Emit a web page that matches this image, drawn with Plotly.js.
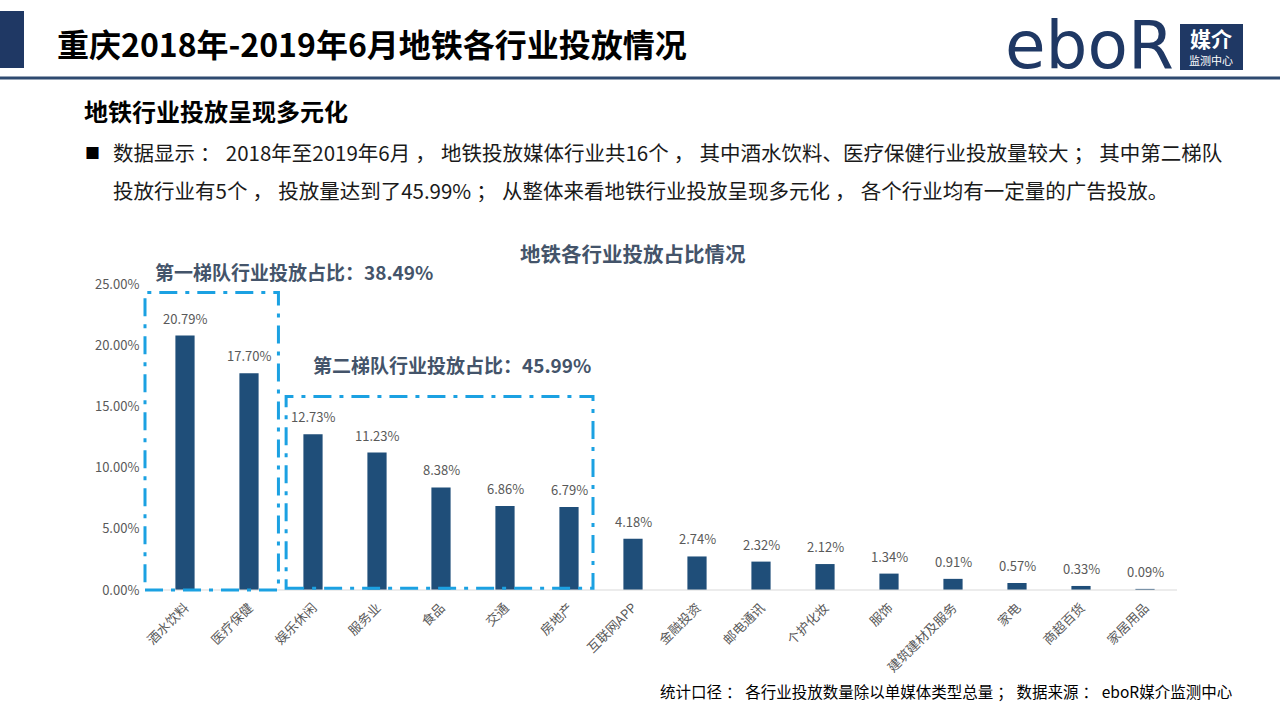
<!DOCTYPE html>
<html>
<head>
<meta charset="utf-8">
<script src="https://cdn.plot.ly/plotly-3.0.1.min.js"></script>
<style>
html,body{margin:0;padding:0;background:#fff;}
#chart{width:1280px;height:720px;}
</style>
</head>
<body>
<div id="chart"></div>
<script>
// ---- data ----
const categories = ['酒水饮料','医疗保健','娱乐休闲','服务业','食品','交通','房地产','互联网APP','金融投资','邮电通讯','个护化妆','服饰','建筑建材及服务','家电','商超百货','家居用品'];
const shares = [20.79, 17.70, 12.73, 11.23, 8.38, 6.86, 6.79, 4.18, 2.74, 2.32, 2.12, 1.34, 0.91, 0.57, 0.33, 0.09];
const yTickValues = [0, 5, 10, 15, 20, 25];
const yTickLabels = ['0.00%', '5.00%', '10.00%', '15.00%', '20.00%', '25.00%'];
const tier1Label = '第一梯队行业投放占比：38.49%';
const tier2Label = '第二梯队行业投放占比：45.99%';
const chartTitle = '地铁各行业投放占比情况';
const pageTitle = '重庆2018年-2019年6月地铁各行业投放情况';
const subTitle = '地铁行业投放呈现多元化';
const S = '\u2005';
const bodyLine1 = '数据显示' + S + '：' + S + '2018年至2019年6月' + S + '，' + S + '地铁投放媒体行业共16个' + S + '，' + S + '其中酒水饮料、医疗保健行业投放量较大' + S + '；' + S + '其中第二梯队';
const bodyLine2 = '投放行业有5个' + S + '，' + S + '投放量达到了45.99%' + S + '；' + S + '从整体来看地铁行业投放呈现多元化' + S + '，' + S + '各个行业均有一定量的广告投放。';
const footNote = '统计口径' + S + '：' + S + '各行业投放数量除以单媒体类型总量' + S + '；' + S + '数据来源' + S + '：' + S + 'eboR媒介监测中心';

// ---- layout helpers (page pixel -> paper) ----
const L = 153, R = 1177, T = 284, B = 590;
const px = x => (x - L) / (R - L);
const py = y => (B - y) / (B - T);
const nCat = categories.length;
const yMax = 25;
const catToPaper = i => (i + 0.5) / nCat;
const valToPaper = v => v / yMax;

const CJK = '"Noto Sans CJK SC", "Noto Sans", sans-serif';
const navy = '#1f3864';
const slate = '#44546a';
const barColor = '#1f4e79';
const boxColor = '#1ba1e2';

const trace = {
  type: 'bar',
  x: categories,
  y: shares,
  width: 0.3,
  marker: {color: barColor},
  hoverinfo: 'skip'
};

const annotations = [];
// value labels
categories.forEach((c, i) => {
  annotations.push({
    x: c, y: shares[i], xref: 'x', yref: 'y',
    text: shares[i].toFixed(2) + '%',
    showarrow: false, yanchor: 'bottom', yshift: 6,
    font: {family: CJK, size: 13, color: '#595959'}
  });
});
function pageText(text, x, y, size, opts) {
  opts = opts || {};
  annotations.push(Object.assign({
    text: text, xref: 'paper', yref: 'paper', x: px(x), y: py(y),
    xanchor: 'left', yanchor: 'middle', showarrow: false,
    font: {family: CJK, size: size, color: opts.color || '#000'}
  }, opts.extra || {}));
}
pageText('<b>' + pageTitle + '</b>', 55, 43, 32);
pageText('<b>' + subTitle + '</b>', 82, 110, 24);
pageText('■', 83, 152, 15);
pageText(bodyLine1, 111, 152, 20.5, {color: '#1a1a1a'});
pageText(bodyLine2, 111, 190, 20.5, {color: '#1a1a1a'});
pageText('<b>' + chartTitle + '</b>', 633, 253, 20.5, {color: slate, extra: {xanchor: 'center'}});
pageText('<b>' + tier1Label + '</b>', 153, 271, 19, {color: slate});
pageText('<b>' + tier2Label + '</b>', 311, 364, 19, {color: slate});
pageText(footNote, 1234, 691, 15.5, {color: '#000', extra: {xanchor: 'right'}});
// logo
pageText('eboR', 1176, 45, 66, {extra: {xanchor: 'right', font: {family: '"DejaVu Sans", sans-serif', size: 66, color: navy}}});
pageText('<b>媒介</b>', 1211, 38, 21, {color: '#fff', extra: {xanchor: 'center'}});
pageText('监测中心', 1211, 60, 11, {color: '#fff', extra: {xanchor: 'center'}});

const dashStyle = '18px,8px,4px,8px';
const shapes = [
  // header block and rule
  {type: 'rect', xref: 'paper', yref: 'paper', x0: px(0), x1: px(24), y0: py(11), y1: py(68), fillcolor: navy, line: {width: 0}},
  {type: 'line', xref: 'paper', yref: 'paper', x0: px(0), x1: px(1280), y0: py(78), y1: py(78), line: {color: '#2e4a70', width: 3}},
  // logo box
  {type: 'rect', xref: 'paper', yref: 'paper', x0: px(1180), x1: px(1243), y0: py(24), y1: py(70), fillcolor: navy, line: {width: 0}},
  // x axis line
  {type: 'line', xref: 'paper', yref: 'paper', x0: px(145), x1: 1, y0: 0, y1: 0, line: {color: '#d9d9d9', width: 1}},
  // tier boxes
  {type: 'rect', xref: 'paper', yref: 'paper', x0: catToPaper(-0.625), x1: catToPaper(1.46), y0: valToPaper(0), y1: valToPaper(24.3), line: {color: boxColor, width: 3, dash: dashStyle}},
  {type: 'rect', xref: 'paper', yref: 'paper', x0: catToPaper(1.58), x1: catToPaper(6.375), y0: valToPaper(0.15), y1: valToPaper(15.8), line: {color: boxColor, width: 3, dash: dashStyle}}
];

const layout = {
  width: 1280, height: 720,
  margin: {l: L, r: 1280 - R, t: T, b: 720 - B, pad: 0},
  paper_bgcolor: '#fff', plot_bgcolor: 'rgba(0,0,0,0)',
  showlegend: false,
  xaxis: {
    type: 'category',
    range: [-0.5, nCat - 0.5],
    showline: false, showgrid: false, zeroline: false,
    tickangle: -45,
    ticks: 'outside', ticklen: 4, tickcolor: 'rgba(0,0,0,0)',
    tickfont: {family: CJK, size: 13, color: '#595959'}
  },
  yaxis: {
    range: [0, yMax],
    tickmode: 'array',
    tickvals: yTickValues,
    ticktext: yTickLabels,
    showline: false, showgrid: false, zeroline: false,
    ticks: 'outside', ticklen: 10, tickcolor: 'rgba(0,0,0,0)',
    tickfont: {family: CJK, size: 13, color: '#595959'}
  },
  annotations: annotations,
  shapes: shapes
};

Plotly.newPlot('chart', [trace], layout, {displayModeBar: false, staticPlot: true});
</script>
</body>
</html>
